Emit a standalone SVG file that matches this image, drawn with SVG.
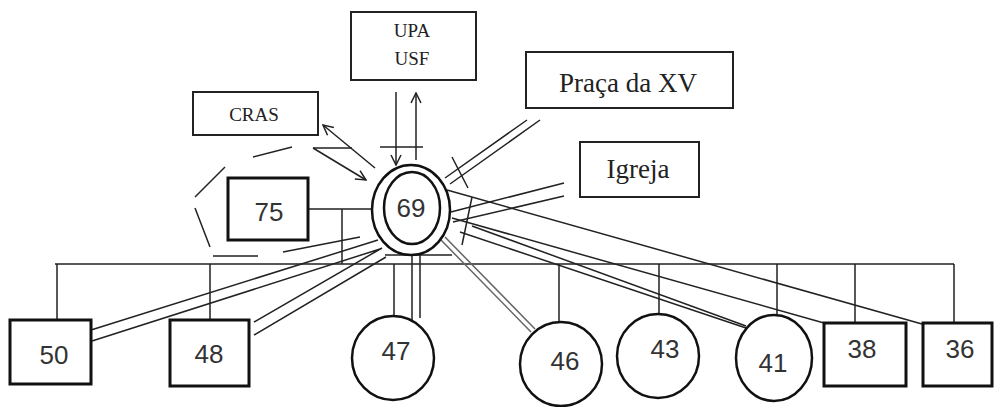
<svg xmlns="http://www.w3.org/2000/svg" width="995" height="407" viewBox="0 0 995 407">
<defs>
<style>
.lbl{font-family:"Liberation Serif","Times New Roman",serif;fill:#222;text-anchor:middle}
.num{font-family:"Liberation Sans",Arial,sans-serif;font-size:26px;fill:#333;text-anchor:middle}
.tbox{fill:#fff;stroke:#222;stroke-width:2}
.nbox{fill:#fff;stroke:#111;stroke-width:3}
.circ{fill:#fff;stroke:#111;stroke-width:2.5}
.ln{stroke:#222;stroke-width:1.5;fill:none}
.gr{stroke:#666;stroke-width:1.5;fill:none}
.ar{stroke:#222;stroke-width:1.5;fill:none;marker-end:url(#ah)}
</style>
<marker id="ah" viewBox="0 0 12 12" refX="11" refY="6" markerWidth="12" markerHeight="12" markerUnits="userSpaceOnUse" orient="auto">
<path d="M1,1 L11,6 L1,11" fill="none" stroke="#222" stroke-width="1.5"/>
</marker>
</defs>
<rect width="995" height="407" fill="#fff"/>
<g id="connectors">
<!-- bus -->
<path class="ln" d="M55,264 H954 M57,264 V320 M210,264 V320 M394,264 V316 M559,264 V322 M659,264 V313 M777,264 V315 M855,264 V323 M954,264 V323"/>
<path class="ln" d="M308,209 H372 M342,209 V264"/>
<!-- 47 -->
<path class="ln" d="M412,254 V328 M420,254 V318"/>
<!-- 46 -->
<path class="gr" d="M441,240 L531,332 M445,237 L535,329"/>
<!-- Praça -->
<path class="ln" d="M445,178 L527,120 M450,184 L540,120"/>
<!-- Igreja -->
<path class="ln" d="M447,213 L564,183 M453,222 L564,196"/>
<!-- 36, 38, 41 -->
<path class="ln" d="M447,190 L922,324 M452,218 L824,323 M460,232 L746,328 M472,226 L746,326"/>
<!-- 50, 48 -->
<path class="ln" d="M91,330 L378,240 M92,341 L380,249 M254,322 L382,248 M254,335 L386,257"/>
<!-- household dashed boundary -->
<path class="ln" d="M195,197 L225,167 M195,208 L210,247 M213,256 H258 M283,252 L360,237 M253,157 L292,147 M313,148 H352 M452,157 L468,188 M472,197 L462,245 M385,255 H452"/>
<!-- CRAS arrows -->
<path class="ar" d="M375,168 L323,125"/>
<path class="ar" d="M313,148 L366,180"/>
<!-- UPA arrows -->
<path class="ar" d="M396,92 V165"/>
<path class="ar" d="M416,160 V93"/>
<path class="ln" d="M380,147 H423"/>
</g>
<g id="upa"><rect class="tbox" x="351" y="12" width="125" height="68"/><text class="lbl" x="412" y="37" font-size="19">UPA</text><text class="lbl" x="412" y="65" font-size="19">USF</text></g>
<g id="cras"><rect class="tbox" x="193" y="92" width="125" height="43"/><text class="lbl" x="254" y="121" font-size="19">CRAS</text></g>
<g id="praca"><rect class="tbox" x="526" y="52" width="207" height="56"/><text class="lbl" x="628" y="92" font-size="27">Praça da XV</text></g>
<g id="igreja"><rect class="tbox" x="580" y="142" width="119" height="55"/><text class="lbl" x="638" y="178" font-size="27">Igreja</text></g>
<g id="n75"><rect class="nbox" x="228" y="178" width="80" height="62"/><text class="num" x="269" y="221">75</text></g>
<g id="n69"><ellipse class="circ" cx="411" cy="210" rx="39" ry="45"/><ellipse class="circ" cx="412" cy="208" rx="28" ry="36"/><text class="num" x="411" y="217">69</text></g>
<g id="n50"><rect class="nbox" x="10" y="320" width="81" height="64"/><text class="num" x="54" y="364">50</text></g>
<g id="n48"><rect class="nbox" x="170" y="320" width="79" height="66"/><text class="num" x="209" y="363">48</text></g>
<g id="n47"><ellipse class="circ" cx="393" cy="358" rx="41" ry="42"/><text class="num" x="396" y="360">47</text></g>
<g id="n46"><ellipse class="circ" cx="561" cy="364" rx="41" ry="42"/><text class="num" x="565" y="370">46</text></g>
<g id="n43"><ellipse class="circ" cx="658" cy="356" rx="41" ry="42"/><text class="num" x="665" y="358">43</text></g>
<g id="n41"><ellipse class="circ" cx="774" cy="358" rx="38" ry="43"/><text class="num" x="773" y="372">41</text></g>
<g id="n38"><rect class="nbox" x="824" y="323" width="82" height="63"/><text class="num" x="862" y="358">38</text></g>
<g id="n36"><rect class="nbox" x="923" y="323" width="69" height="63"/><text class="num" x="960" y="358">36</text></g>
</svg>
